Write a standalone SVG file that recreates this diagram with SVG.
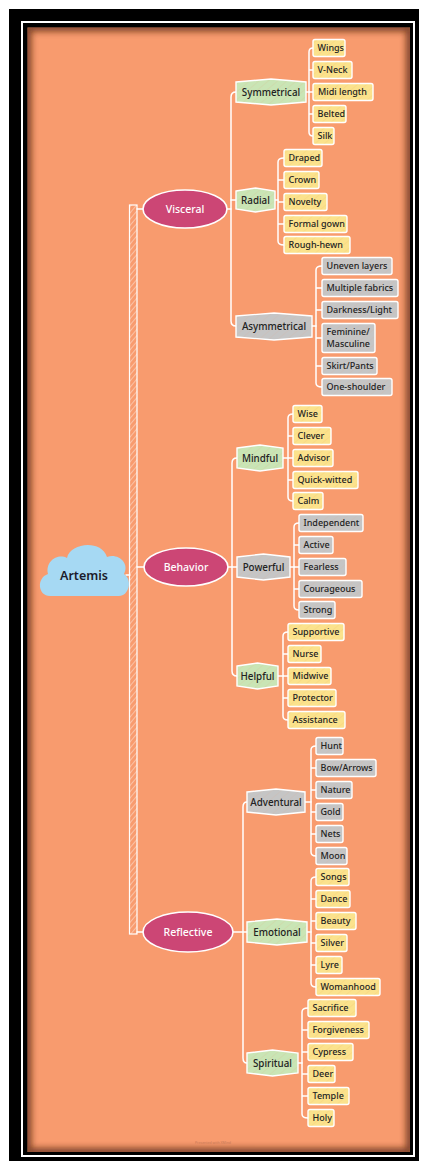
<svg xmlns="http://www.w3.org/2000/svg" width="423" height="1165" viewBox="0 0 423 1165">
<style>
.leaf rect{stroke:#fff;stroke-width:1.4}
.ly rect{fill:url(#py)}
.lg rect{fill:url(#pg)}
.leaf text{font-family:"Noto Sans","Open Sans",sans-serif;font-size:9px;font-weight:500;fill:#222}
.sub path{stroke:#fff;stroke-width:1.4}
.sg path{fill:url(#pgr)}
.sx path{fill:url(#pg)}
.sub text{font-family:"Noto Sans","Open Sans",sans-serif;font-size:9.8px;font-weight:500;fill:#222;text-anchor:middle}
.main ellipse{fill:#CC4675;stroke:#fff;stroke-width:1.6}
.main text{font-family:"Noto Sans","Open Sans",sans-serif;font-size:10.5px;font-weight:500;fill:#fff;text-anchor:middle}
#connectors path{fill:none;stroke:#fff;stroke-width:1.5;stroke-linecap:round}
</style>
<defs>
<pattern id="py" width="6" height="6" patternUnits="userSpaceOnUse" patternTransform="rotate(50)">
<rect width="6" height="6" fill="#FBE28C"/><line x1="0" y1="0" x2="0" y2="6" stroke="#EDB765" stroke-width="0.6" opacity="0.6"/>
</pattern>
<pattern id="pg" width="6" height="6" patternUnits="userSpaceOnUse" patternTransform="rotate(50)">
<rect width="6" height="6" fill="#C5C5C5"/><line x1="0" y1="0" x2="0" y2="6" stroke="#D9A48C" stroke-width="0.6" opacity="0.5"/>
</pattern>
<pattern id="pgr" width="6" height="6" patternUnits="userSpaceOnUse" patternTransform="rotate(50)">
<rect width="6" height="6" fill="#C9E5B5"/><line x1="0" y1="0" x2="0" y2="6" stroke="#E2A27C" stroke-width="0.6" opacity="0.5"/>
</pattern>
<pattern id="ph" width="4" height="4" patternUnits="userSpaceOnUse" patternTransform="rotate(40)">
<line x1="0" y1="0" x2="0" y2="4" stroke="#fff" stroke-width="0.9" opacity="0.85"/>
</pattern>
<clipPath id="clipO"><rect x="27.5" y="27.5" width="382.5" height="1124.5"/></clipPath>
<filter id="blur" x="-5%" y="-5%" width="110%" height="110%"><feGaussianBlur stdDeviation="3"/></filter>
</defs>
<rect width="423" height="1165" fill="#fff"/>
<rect x="9" y="9" width="410" height="1152" fill="#000"/>
<rect x="22" y="22" width="392" height="1134" fill="none" stroke="#fff" stroke-width="2"/>
<rect x="27.5" y="27.5" width="382.5" height="1124.5" fill="#F89B6E"/>
<g clip-path="url(#clipO)">
<rect x="27.5" y="27.5" width="382.5" height="1124.5" fill="none" stroke="#4a1f0a" stroke-width="8" opacity="0.7" filter="url(#blur)"/>
</g>
<text x="195" y="1144" font-family="Noto Sans, sans-serif" font-size="3.5" fill="#c97a58">Presented with XMind</text>

<g id="connectors">
<rect x="129.5" y="205" width="7.5" height="729" fill="url(#ph)" stroke="#fff" stroke-width="1.2" style="fill:url(#ph)"/>
<path d="M126,575 H130"/>
<path d="M137,209 H143"/>
<path d="M137,567 H144"/>
<path d="M137,932 H143"/>
<path d="M227,209 H231"/>
<path d="M236,92 Q231,92 231,97 V321 Q231,326 236,326"/>
<path d="M231,200 H236"/>
<path d="M228,567 H237"/>
<path d="M237,458 Q232,458 232,463 V671 Q232,676 237,676"/>
<path d="M233,932 H247"/>
<path d="M247,802 Q243,802 243,807 V1058 Q243,1063 247,1063"/>
<path d="M306,92 H309"/>
<path d="M313,48 Q309,48 309,52 V132 Q309,136 313,136 M309,70 H313 M309,92 H313 M309,114 H313"/>
<path d="M275,200 H278"/>
<path d="M284,158 Q278,158 278,162 V241 Q278,245 284,245 M278,180 H284 M278,202 H284 M278,224 H284"/>
<path d="M312,326 H316"/>
<path d="M322,266 Q316,266 316,270 V383 Q316,387 322,387 M316,288 H322 M316,310 H322 M316,338 H322 M316,366 H322"/>
<path d="M283,458 H288"/>
<path d="M293,414 Q288,414 288,418 V497 Q288,501 293,501 M288,436 H293 M288,458 H293 M288,480 H293"/>
<path d="M290,567 H294"/>
<path d="M299,523 Q294,523 294,527 V606 Q294,610 299,610 M294,545 H299 M294,567 H299 M294,589 H299"/>
<path d="M278,676 H283"/>
<path d="M288,632 Q283,632 283,636 V716 Q283,720 288,720 M283,654 H288 M283,676 H288 M283,698 H288"/>
<path d="M305,802 H311"/>
<path d="M316,746 Q311,746 311,750 V852 Q311,856 316,856 M311,768 H316 M311,790 H316 M311,812 H316 M311,834 H316"/>
<path d="M307,932 H311"/>
<path d="M316,877 Q311,877 311,881 V983 Q311,987 316,987 M311,899 H316 M311,921 H316 M311,943 H316 M311,965 H316"/>
<path d="M298,1063 H302"/>
<path d="M308,1008 Q302,1008 302,1012 V1114 Q302,1118 308,1118 M302,1030 H308 M302,1052 H308 M302,1074 H308 M302,1096 H308"/>
</g>

<g id="n-artemis">
<path d="M50,596 C38,596 36,578 48,574 C45,561 58,553 67,558 C70,543 101,539 107,557 C118,553 130,563 124,574 C133,580 129,596 119,596 Z" fill="#A6D9F3"/>
<text x="84" y="580" font-family="Noto Sans, Open Sans, sans-serif" font-size="12.5" font-weight="600" fill="#1c1c2c" text-anchor="middle">Artemis</text>
</g>

<g id="n-visceral" class="main"><ellipse cx="185" cy="209" rx="42" ry="19"/><text x="185" y="213">Visceral</text></g>
<g id="n-behavior" class="main"><ellipse cx="186" cy="567" rx="42" ry="19"/><text x="186" y="571">Behavior</text></g>
<g id="n-reflective" class="main"><ellipse cx="188" cy="932" rx="45" ry="20"/><text x="188" y="936">Reflective</text></g>

<g id="n-symmetrical" class="sub sg"><path d="M236,82 L271,79 L306,82 V102 L271,105 L236,102 Z"/><text x="271" y="95.5">Symmetrical</text></g>
<g id="n-radial" class="sub sg"><path d="M236,191 L255.5,188 L275,191 V209 L255.5,212 L236,209 Z"/><text x="255.5" y="203.5">Radial</text></g>
<g id="n-asymmetrical" class="sub sx"><path d="M236,316 L274,313 L312,316 V337 L274,340 L236,337 Z"/><text x="274" y="329.5">Asymmetrical</text></g>
<g id="n-mindful" class="sub sg"><path d="M237,448 L260,445 L283,448 V468 L260,471 L237,468 Z"/><text x="260" y="461.5">Mindful</text></g>
<g id="n-powerful" class="sub sx"><path d="M237,557 L263.5,554 L290,557 V577 L263.5,580 L237,577 Z"/><text x="263.5" y="570.5">Powerful</text></g>
<g id="n-helpful" class="sub sg"><path d="M237,666 L257.5,663 L278,666 V686 L257.5,689 L237,686 Z"/><text x="257.5" y="679.5">Helpful</text></g>
<g id="n-adventural" class="sub sx"><path d="M247,792 L276,789 L305,792 V812 L276,815 L247,812 Z"/><text x="276" y="805.5">Adventural</text></g>
<g id="n-emotional" class="sub sg"><path d="M247,922 L277,919 L307,922 V942 L277,945 L247,942 Z"/><text x="277" y="935.5">Emotional</text></g>
<g id="n-spiritual" class="sub sg"><path d="M247,1053 L272.5,1050 L298,1053 V1073 L272.5,1076 L247,1073 Z"/><text x="272.5" y="1066.5">Spiritual</text></g>

<g id="n-wings" class="leaf ly"><rect x="313" y="39.5" width="32" height="17" rx="2"/><text x="317.5" y="51.2">Wings</text></g>
<g id="n-vneck" class="leaf ly"><rect x="313" y="61.5" width="39" height="17" rx="2"/><text x="317.5" y="73.2">V-Neck</text></g>
<g id="n-midi" class="leaf ly"><rect x="313" y="83.5" width="60" height="17" rx="2"/><text x="318" y="95.2">Midi length</text></g>
<g id="n-belted" class="leaf ly"><rect x="313" y="105.5" width="33" height="17" rx="2"/><text x="317.5" y="117.2">Belted</text></g>
<g id="n-silk" class="leaf ly"><rect x="313" y="127.5" width="21" height="17" rx="2"/><text x="317.5" y="139.2">Silk</text></g>

<g id="n-draped" class="leaf ly"><rect x="284" y="149.5" width="38" height="17" rx="2"/><text x="288.5" y="161.2">Draped</text></g>
<g id="n-crown" class="leaf ly"><rect x="284" y="171.5" width="35" height="17" rx="2"/><text x="288.5" y="183.2">Crown</text></g>
<g id="n-novelty" class="leaf ly"><rect x="284" y="193.5" width="43" height="17" rx="2"/><text x="288.5" y="205.2">Novelty</text></g>
<g id="n-formal" class="leaf ly"><rect x="284" y="215.5" width="63" height="17" rx="2"/><text x="288.5" y="227.2">Formal gown</text></g>
<g id="n-rough" class="leaf ly"><rect x="284" y="236.5" width="66" height="17" rx="2"/><text x="288.5" y="248.2">Rough-hewn</text></g>

<g id="n-uneven" class="leaf lg"><rect x="322" y="257.5" width="70" height="17" rx="2"/><text x="326.5" y="269.2">Uneven layers</text></g>
<g id="n-multiple" class="leaf lg"><rect x="322" y="279.5" width="76" height="17" rx="2"/><text x="326.5" y="291.2">Multiple fabrics</text></g>
<g id="n-darkness" class="leaf lg"><rect x="322" y="301.5" width="76" height="17" rx="2"/><text x="326.5" y="313.2">Darkness/Light</text></g>
<g id="n-feminine" class="leaf lg"><rect x="322" y="323.5" width="53" height="29" rx="2"/><text x="326.5" y="335">Feminine/</text><text x="326.5" y="347">Masculine</text></g>
<g id="n-skirt" class="leaf lg"><rect x="322" y="357.5" width="55" height="17" rx="2"/><text x="326.5" y="369.2">Skirt/Pants</text></g>
<g id="n-oneshoulder" class="leaf lg"><rect x="322" y="378.5" width="70" height="17" rx="2"/><text x="326.5" y="390.2">One-shoulder</text></g>

<g id="n-wise" class="leaf ly"><rect x="293" y="405.5" width="29" height="17" rx="2"/><text x="297.5" y="417.2">Wise</text></g>
<g id="n-clever" class="leaf ly"><rect x="293" y="427.5" width="38" height="17" rx="2"/><text x="297.5" y="439.2">Clever</text></g>
<g id="n-advisor" class="leaf ly"><rect x="293" y="449.5" width="40" height="17" rx="2"/><text x="297.5" y="461.2">Advisor</text></g>
<g id="n-quick" class="leaf ly"><rect x="293" y="471.5" width="65" height="17" rx="2"/><text x="297.5" y="483.2">Quick-witted</text></g>
<g id="n-calm" class="leaf ly"><rect x="293" y="492.5" width="30" height="17" rx="2"/><text x="297.5" y="504.2">Calm</text></g>

<g id="n-independent" class="leaf lg"><rect x="299" y="514.5" width="64" height="17" rx="2"/><text x="303.5" y="526.2">Independent</text></g>
<g id="n-active" class="leaf lg"><rect x="299" y="536.5" width="34" height="17" rx="2"/><text x="303.5" y="548.2">Active</text></g>
<g id="n-fearless" class="leaf lg"><rect x="299" y="558.5" width="47" height="17" rx="2"/><text x="303.5" y="570.2">Fearless</text></g>
<g id="n-courageous" class="leaf lg"><rect x="299" y="580.5" width="63" height="17" rx="2"/><text x="303.5" y="592.2">Courageous</text></g>
<g id="n-strong" class="leaf lg"><rect x="299" y="601.5" width="36" height="17" rx="2"/><text x="303.5" y="613.2">Strong</text></g>

<g id="n-supportive" class="leaf ly"><rect x="288" y="623.5" width="56" height="17" rx="2"/><text x="292.5" y="635.2">Supportive</text></g>
<g id="n-nurse" class="leaf ly"><rect x="288" y="645.5" width="33" height="17" rx="2"/><text x="292.5" y="657.2">Nurse</text></g>
<g id="n-midwive" class="leaf ly"><rect x="288" y="667.5" width="43" height="17" rx="2"/><text x="292.5" y="679.2">Midwive</text></g>
<g id="n-protector" class="leaf ly"><rect x="288" y="689.5" width="48" height="17" rx="2"/><text x="292.5" y="701.2">Protector</text></g>
<g id="n-assistance" class="leaf ly"><rect x="288" y="711.5" width="57" height="17" rx="2"/><text x="292.5" y="723.2">Assistance</text></g>

<g id="n-hunt" class="leaf lg"><rect x="316" y="737.5" width="27" height="17" rx="2"/><text x="320.5" y="749.2">Hunt</text></g>
<g id="n-bow" class="leaf lg"><rect x="316" y="759.5" width="60" height="17" rx="2"/><text x="320.5" y="771.2">Bow/Arrows</text></g>
<g id="n-nature" class="leaf lg"><rect x="316" y="781.5" width="36" height="17" rx="2"/><text x="320.5" y="793.2">Nature</text></g>
<g id="n-gold" class="leaf lg"><rect x="316" y="803.5" width="27" height="17" rx="2"/><text x="320.5" y="815.2">Gold</text></g>
<g id="n-nets" class="leaf lg"><rect x="316" y="825.5" width="27" height="17" rx="2"/><text x="320.5" y="837.2">Nets</text></g>
<g id="n-moon" class="leaf lg"><rect x="316" y="847.5" width="31" height="17" rx="2"/><text x="320.5" y="859.2">Moon</text></g>

<g id="n-songs" class="leaf ly"><rect x="316" y="868.5" width="33" height="17" rx="2"/><text x="320.5" y="880.2">Songs</text></g>
<g id="n-dance" class="leaf ly"><rect x="316" y="890.5" width="34" height="17" rx="2"/><text x="320.5" y="902.2">Dance</text></g>
<g id="n-beauty" class="leaf ly"><rect x="316" y="912.5" width="40" height="17" rx="2"/><text x="320.5" y="924.2">Beauty</text></g>
<g id="n-silver" class="leaf ly"><rect x="316" y="934.5" width="31" height="17" rx="2"/><text x="320.5" y="946.2">Silver</text></g>
<g id="n-lyre" class="leaf ly"><rect x="316" y="956.5" width="26" height="17" rx="2"/><text x="320.5" y="968.2">Lyre</text></g>
<g id="n-womanhood" class="leaf ly"><rect x="316" y="978.5" width="64" height="17" rx="2"/><text x="320.5" y="990.2">Womanhood</text></g>

<g id="n-sacrifice" class="leaf ly"><rect x="308" y="999.5" width="48" height="17" rx="2"/><text x="312.5" y="1011.2">Sacrifice</text></g>
<g id="n-forgiveness" class="leaf ly"><rect x="308" y="1021.5" width="61" height="17" rx="2"/><text x="312.5" y="1033.2">Forgiveness</text></g>
<g id="n-cypress" class="leaf ly"><rect x="308" y="1043.5" width="45" height="17" rx="2"/><text x="312.5" y="1055.2">Cypress</text></g>
<g id="n-deer" class="leaf ly"><rect x="308" y="1065.5" width="27" height="17" rx="2"/><text x="312.5" y="1077.2">Deer</text></g>
<g id="n-temple" class="leaf ly"><rect x="308" y="1087.5" width="41" height="17" rx="2"/><text x="312.5" y="1099.2">Temple</text></g>
<g id="n-holy" class="leaf ly"><rect x="308" y="1109.5" width="26" height="17" rx="2"/><text x="312.5" y="1121.2">Holy</text></g>
</svg>
